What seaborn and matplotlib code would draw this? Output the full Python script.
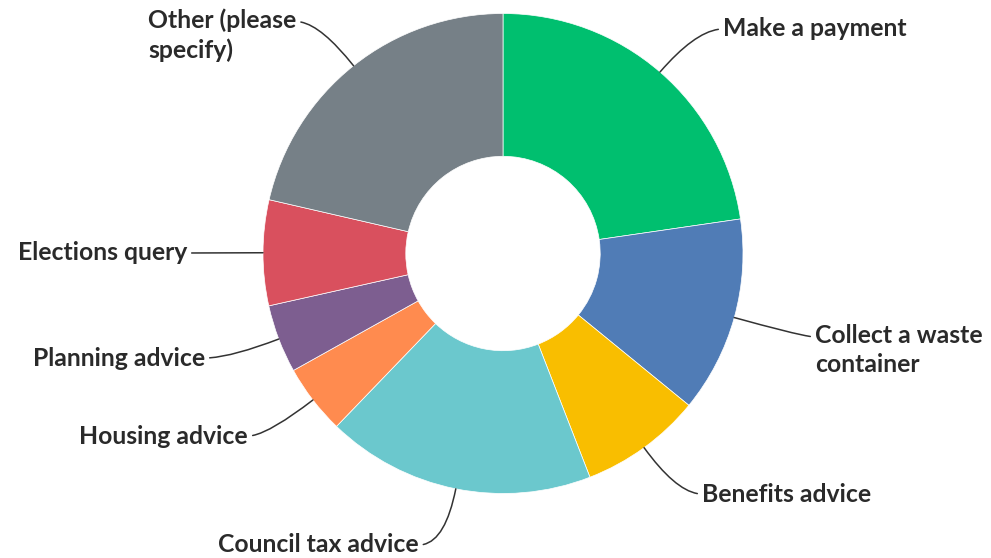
import numpy as np
import matplotlib
matplotlib.use("Agg")
import matplotlib.pyplot as plt
import seaborn as sns

categories = ["Make a payment", "Collect a waste\ncontainer", "Benefits advice",
              "Council tax advice", "Housing advice", "Planning advice",
              "Elections query", "Other (please\nspecify)"]
values = [22.7, 13.2, 8.2, 18.1, 4.7, 4.6, 7.1, 21.4]
colors = ["#00BF6F", "#507CB6", "#F9BE00", "#6BC8CD", "#FF8B4F", "#7D5E90",
          "#D9505E", "#768087"]

sns.set_theme(style="white")
plt.rcParams['font.family'] = ['Lato', 'DejaVu Sans']

W, H = 991, 558
fig = plt.figure(figsize=(9.91, 5.58), dpi=100)
ax = fig.add_axes([0, 0, 1, 1])

cx, cy, R = 503, H - 253.5, 240
wedges, _ = ax.pie(values, colors=sns.color_palette(colors), startangle=90,
                   counterclock=False, center=(cx, cy), radius=R, frame=True,
                   wedgeprops=dict(width=R * 0.595, edgecolor='white', linewidth=0.5))
ax.set_xlim(0, W)
ax.set_ylim(0, H)
ax.set_aspect('equal')
ax.axis('off')

# label layout: (x, y from top, ha, relpos)
layout = [
    (723, 29, 'left', (0, 0.5)),
    (815, 350, 'left', (0, 0.75)),
    (702, 494, 'left', (0, 0.5)),
    (218, 545, 'left', (1, 0.5)),
    (248, 436, 'right', (1, 0.5)),
    (205, 358, 'right', (1, 0.5)),
    (187, 253, 'right', (1, 0.5)),
    (148, 35, 'left', (1, 0.75)),
]

for w, lab, (tx, ty, ha, rp) in zip(wedges, categories, layout):
    th = 0.5 * (w.theta1 + w.theta2)
    rad = np.deg2rad(th)
    xy = (cx + R * np.cos(rad), cy + R * np.sin(rad))
    if abs(np.sin(rad)) < 0.15:
        cs = "arc3,rad=0"
    else:
        cs = f"angle3,angleA=0,angleB={th % 360:.1f}"
    ax.annotate(lab, xy=xy, xytext=(tx, H - ty), ha=ha, va='center',
                fontsize=17.8, fontweight='bold', color='#2a2a2a',
                linespacing=1.33,
                arrowprops=dict(arrowstyle='-', color='#333333', lw=1.1,
                                connectionstyle=cs, relpos=rp,
                                shrinkA=1, shrinkB=0))

fig.savefig("out.png", dpi=100, facecolor='white')
